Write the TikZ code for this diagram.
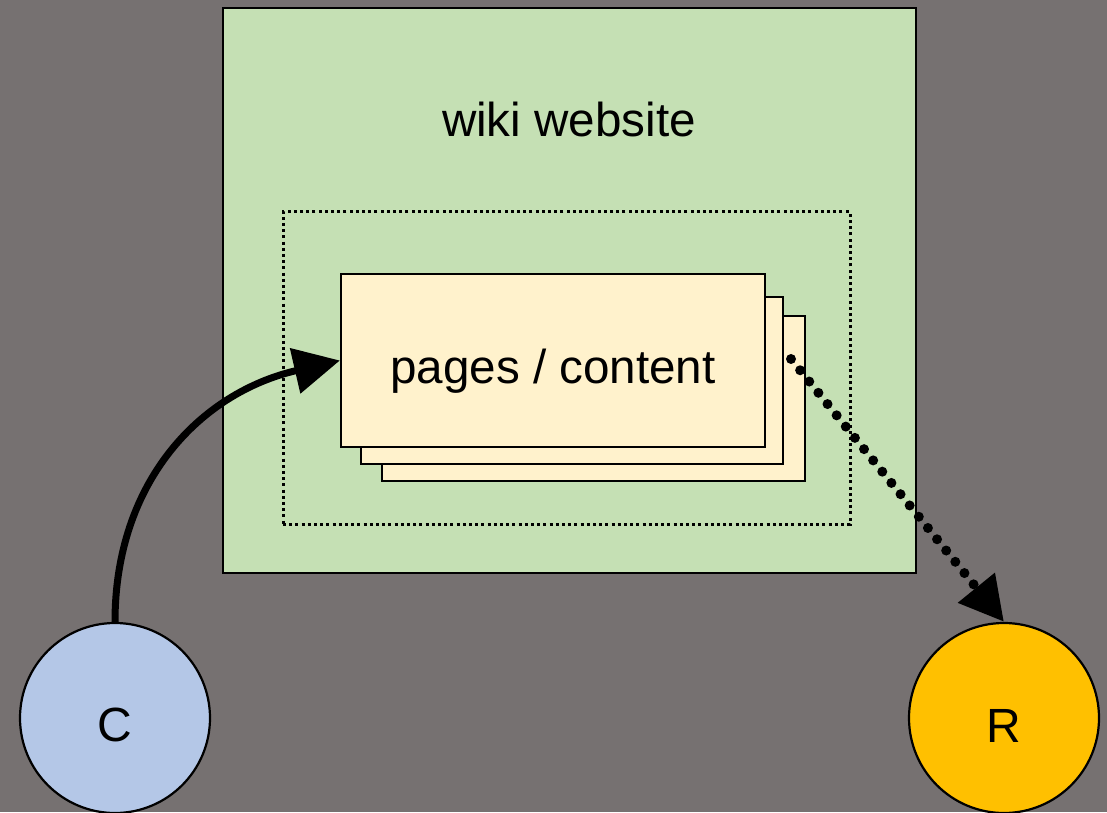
\documentclass[tikz,border=0pt]{standalone}
\usepackage{fontspec}
\setmainfont{Liberation Sans}
\usetikzlibrary{arrows.meta,calc}
\definecolor{bg}{HTML}{767171}
\definecolor{wikigreen}{HTML}{C5E0B4}
\definecolor{pagefill}{HTML}{FFF2CC}
\definecolor{cblue}{HTML}{B4C7E7}
\definecolor{ryellow}{HTML}{FFC000}
\tikzset{
  bigbox/.style={draw=black, line width=2.8pt, fill=wikigreen, minimum width=693pt, minimum height=565pt, inner sep=0pt},
  dotbox/.style={draw=black, line width=3pt, dash pattern=on 3pt off 3.2pt, minimum width=567pt, minimum height=312pt, inner sep=0pt},
  pagebox/.style={draw=black, line width=2.2pt, fill=pagefill, minimum width=424pt, minimum height=173pt, inner sep=0pt},
  actor/.style={circle, draw=black, line width=2.2pt, minimum size=190pt, inner sep=0pt, text height=48pt, font=\fontsize{48}{56}\selectfont},
  lbl/.style={font=\fontsize{47.6}{56}\selectfont, inner sep=0pt},
}
\begin{document}
\begin{tikzpicture}[x=1pt,y=1pt]
\fill[bg] (0,0) rectangle (1107,812);
\useasboundingbox (0,0) rectangle (1107,812);
\node[bigbox] (wiki) at (569.5,521.5) {};
\node[lbl] (title) at (569,693) {wiki website};
\node[dotbox] (scope) at (566.5,444) {};
\node[pagebox, minimum width=423pt, minimum height=165pt] (back) at (593.5,413.5) {};
\node[pagebox, minimum width=422pt, minimum height=167pt] (middle) at (572,431.5) {};
\node[pagebox] (front) at (553,451.5) {};
\node[lbl] (ptext) at (553,441) {pages / content};
\node[actor, fill=cblue] (C) at (115,94) {C};
\node[actor, fill=ryellow] (R) at (1004,94) {R};
\coordinate (src) at (791,453);
\draw[line width=7pt, -{Triangle[length=46pt,width=45pt]}] (C.north) to[out=90, in=193, looseness=1.05] (front.west);
\draw[line width=10pt, line cap=round, dash pattern=on 0pt off 14.5pt, -{Triangle[length=44pt,width=45pt]}] (src) -- (R.north);
\end{tikzpicture}
\end{document}
